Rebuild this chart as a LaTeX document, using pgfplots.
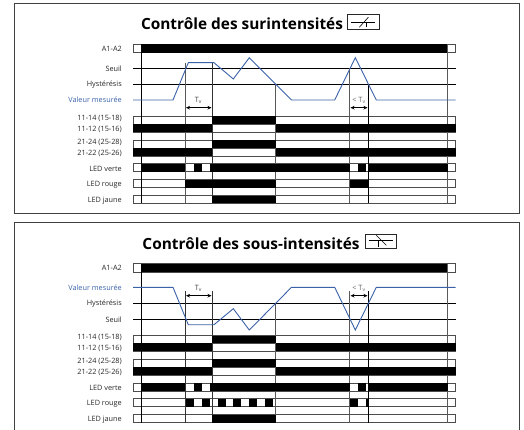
\documentclass[border=0pt]{standalone}
\usepackage{pgfplots}
\pgfplotsset{compat=1.18}
\usepackage{fontspec}
\setmainfont{Open Sans}
\usetikzlibrary{arrows.meta}
\definecolor{mesure}{HTML}{3B62A8}
\definecolor{cadre}{HTML}{404040}
% #1 x left, #2 x right, #3 y top, #4 y bottom
\newcommand{\blk}[4]{\addplot[draw=none,fill=black,forget plot] coordinates {(#1,#3) (#2,#3) (#2,#4) (#1,#4)} --cycle;}
\newcommand{\rowbox}[2]{\addplot[draw=black!70,line width=0.9pt,fill=white] coordinates {(133,#1) (455.7,#1) (455.7,#2) (133,#2)} --cycle;}
\newcommand{\hln}[1]{\addplot[black,line width=0.8pt] coordinates {(133,#1) (455.7,#1)};}
\newcommand{\vln}[4][black!65]{\addplot[#1,line width=0.9pt] coordinates {(#2,#3) (#2,#4)};}
\newcommand{\lab}[3][black!85]{\node[anchor=east,font=\fontsize{7.3}{8}\selectfont,text=#1,inner sep=0pt] at (axis cs:122,#2) {#3};}
\newcommand{\tv}[3]{\addplot[black,line width=0.7pt,{Stealth[length=4pt,width=3.6pt]}-{Stealth[length=4pt,width=3.6pt]}] coordinates {(#1,#3) (#2,#3)};}
\begin{document}
\begin{tikzpicture}
\useasboundingbox (0,0) rectangle (524pt,430pt);
\begin{axis}[
  at={(0,0)}, anchor=south west,
  width=524pt, height=430pt, scale only axis,
  xmin=0, xmax=524, ymin=0, ymax=430,
  y dir=reverse,
  axis lines=none,
  clip=true,
]
% cadres
\addplot[cadre,line width=1pt] coordinates {(14.7,3.3) (519,3.3) (519,213.7) (14.7,213.7)} --cycle;
\addplot[cadre,line width=1pt] coordinates {(14.7,430) (14.7,222.3) (519,222.3) (519,430)};

% ---- surintensites
\rowbox{44.3}{52.7}
\blk{141.3}{448}{44.3}{52.7}
\hln{68.3}
\hln{84.3}
\rowbox{116.3}{124}
\rowbox{124}{132}
\rowbox{140}{148}
\rowbox{148}{156}
\rowbox{163.7}{171.7}
\rowbox{179.7}{187.7}
\rowbox{195.7}{203.5}
\vln[black]{141.3}{44.3}{203.5}
\vln{185.3}{62.7}{203.5}
\vln[black!80]{212}{62.7}{203.5}
\vln{275.7}{84.3}{203.5}
\vln{349.7}{68.3}{203.5}
\vln[black]{368.3}{84.3}{203.5}
\vln{447.3}{44.3}{203.5}
\blk{212}{275.7}{116.3}{124}
\blk{133}{212}{124}{132}
\blk{275.7}{455.7}{124}{132}
\blk{212}{275.7}{140}{148}
\blk{133}{212}{148}{156}
\blk{275.7}{455.7}{148}{156}
\blk{141.3}{185.3}{163.7}{171.7}
\blk{194}{202}{163.7}{171.7}
\blk{209.5}{349.7}{163.7}{171.7}
\blk{358}{366}{163.7}{171.7}
\blk{368}{447.7}{163.7}{171.7}
\blk{185.3}{275.7}{179.7}{187.7}
\blk{349.7}{369}{179.7}{187.7}
\blk{212}{275.7}{195.7}{203.5}
\addplot[mesure,line width=0.9pt] coordinates {(133,100) (173,100) (188.3,62.7) (214,62.7) (233.3,79) (249.3,57.7) (291.5,100) (334.7,100) (355.3,57.7) (376.3,100) (455.7,100)};
\tv{186}{211.5}{107.7}
\tv{350.5}{367.5}{107.7}
\node[font=\fontsize{7.3}{8}\selectfont,text=black!75] at (axis cs:198.5,100.5) {T\textsubscript{v}};
\node[font=\fontsize{7.3}{8}\selectfont,text=black!60] at (axis cs:359,100.5) {< T\textsubscript{v}};
\lab{49}{A1-A2}
\lab{68.3}{Seuil}
\lab{84.3}{Hystérésis}
\lab[mesure]{100}{Valeur mesurée}
\lab{118.7}{11-14 (15-18)}
\lab{129}{11-12 (15-16)}
\lab{142}{21-24 (25-28)}
\lab{153}{21-22 (25-26)}
\lab{169}{LED verte}
\lab{185}{LED rouge}
\lab{200.5}{LED jaune}
\node[anchor=base,font=\fontsize{15.4}{17}\selectfont\bfseries] at (axis cs:242,30) {Contrôle des surintensités};
% symbole
\addplot[draw=black!85,line width=0.8pt,fill=white] coordinates {(347.3,14) (379.3,14) (379.3,29.3) (347.3,29.3)} --cycle;
\addplot[black,line width=0.6pt] coordinates {(350.7,22.3) (375,22.3)};
\addplot[black,line width=0.6pt] coordinates {(359.3,27.3) (368.3,17.3)};
\addplot[black,line width=0.6pt] coordinates {(366.7,22.3) (366.7,27)};

% ---- sous-intensites
\rowbox{263.7}{272}
\blk{141.3}{448}{263.7}{272}
\hln{303.7}
\hln{319.3}
\rowbox{335.5}{343.3}
\rowbox{343.3}{351.3}
\rowbox{359.3}{367.3}
\rowbox{367.3}{375.3}
\rowbox{383}{391}
\rowbox{398.7}{406.7}
\rowbox{414.7}{422.7}
\vln[black]{141.3}{263.7}{422.7}
\vln[black!80]{185.3}{291}{422.7}
\vln[black!80]{212}{291}{422.7}
\vln{275.7}{303.7}{422.7}
\vln{349.7}{291}{422.7}
\vln[black]{368.3}{291}{422.7}
\vln{447.3}{263.7}{422.7}
\blk{212}{275.7}{335.5}{343.3}
\blk{133}{212}{343.3}{351.3}
\blk{275.7}{455.7}{343.3}{351.3}
\blk{212}{275.7}{359.3}{367.3}
\blk{133}{212}{367.3}{375.3}
\blk{275.7}{455.7}{367.3}{375.3}
\blk{141.3}{185.3}{383}{391}
\blk{194}{202}{383}{391}
\blk{209.5}{349.7}{383}{391}
\blk{358}{366}{383}{391}
\blk{368}{447.7}{383}{391}
\blk{186}{194}{398.7}{406.7}
\blk{202}{210}{398.7}{406.7}
\blk{218}{226}{398.7}{406.7}
\blk{233.3}{241.3}{398.7}{406.7}
\blk{249.3}{257.3}{398.7}{406.7}
\blk{265.3}{273}{398.7}{406.7}
\blk{349.7}{358}{398.7}{406.7}
\blk{366}{368.7}{398.7}{406.7}
\blk{212}{275.7}{414.7}{422.7}
\addplot[mesure,line width=0.9pt] coordinates {(133,287.3) (173,287.3) (188.3,324.7) (214,324.7) (233.3,308.7) (249.3,330) (291.5,287.3) (334.7,287.3) (355.3,330) (376.3,287.3) (455.7,287.3)};
\tv{186}{211.5}{295.7}
\tv{350.5}{367.5}{295.7}
\node[font=\fontsize{7.3}{8}\selectfont,text=black!75] at (axis cs:198.5,288) {T\textsubscript{v}};
\node[font=\fontsize{7.3}{8}\selectfont,text=black!60] at (axis cs:359,288) {< T\textsubscript{v}};
\lab{268}{A1-A2}
\lab[mesure]{287.3}{Valeur mesurée}
\lab{303.7}{Hystérésis}
\lab{319.3}{Seuil}
\lab{337.7}{11-14 (15-18)}
\lab{348}{11-12 (15-16)}
\lab{361.5}{21-24 (25-28)}
\lab{372}{21-22 (25-26)}
\lab{388}{LED verte}
\lab{404}{LED rouge}
\lab{420}{LED jaune}
\node[anchor=base,font=\fontsize{15.4}{17}\selectfont\bfseries] at (axis cs:251,249.5) {Contrôle des sous-intensités};
\addplot[draw=black!85,line width=0.8pt,fill=white] coordinates {(365.3,234) (396.3,234) (396.3,248.7) (365.3,248.7)} --cycle;
\addplot[black,line width=0.6pt] coordinates {(368.7,240.3) (393,240.3)};
\addplot[black,line width=0.6pt] coordinates {(376.3,235.3) (386.3,245.3)};
\addplot[black,line width=0.6pt] coordinates {(378.7,240.3) (378.7,247)};
\end{axis}
\end{tikzpicture}
\end{document}
